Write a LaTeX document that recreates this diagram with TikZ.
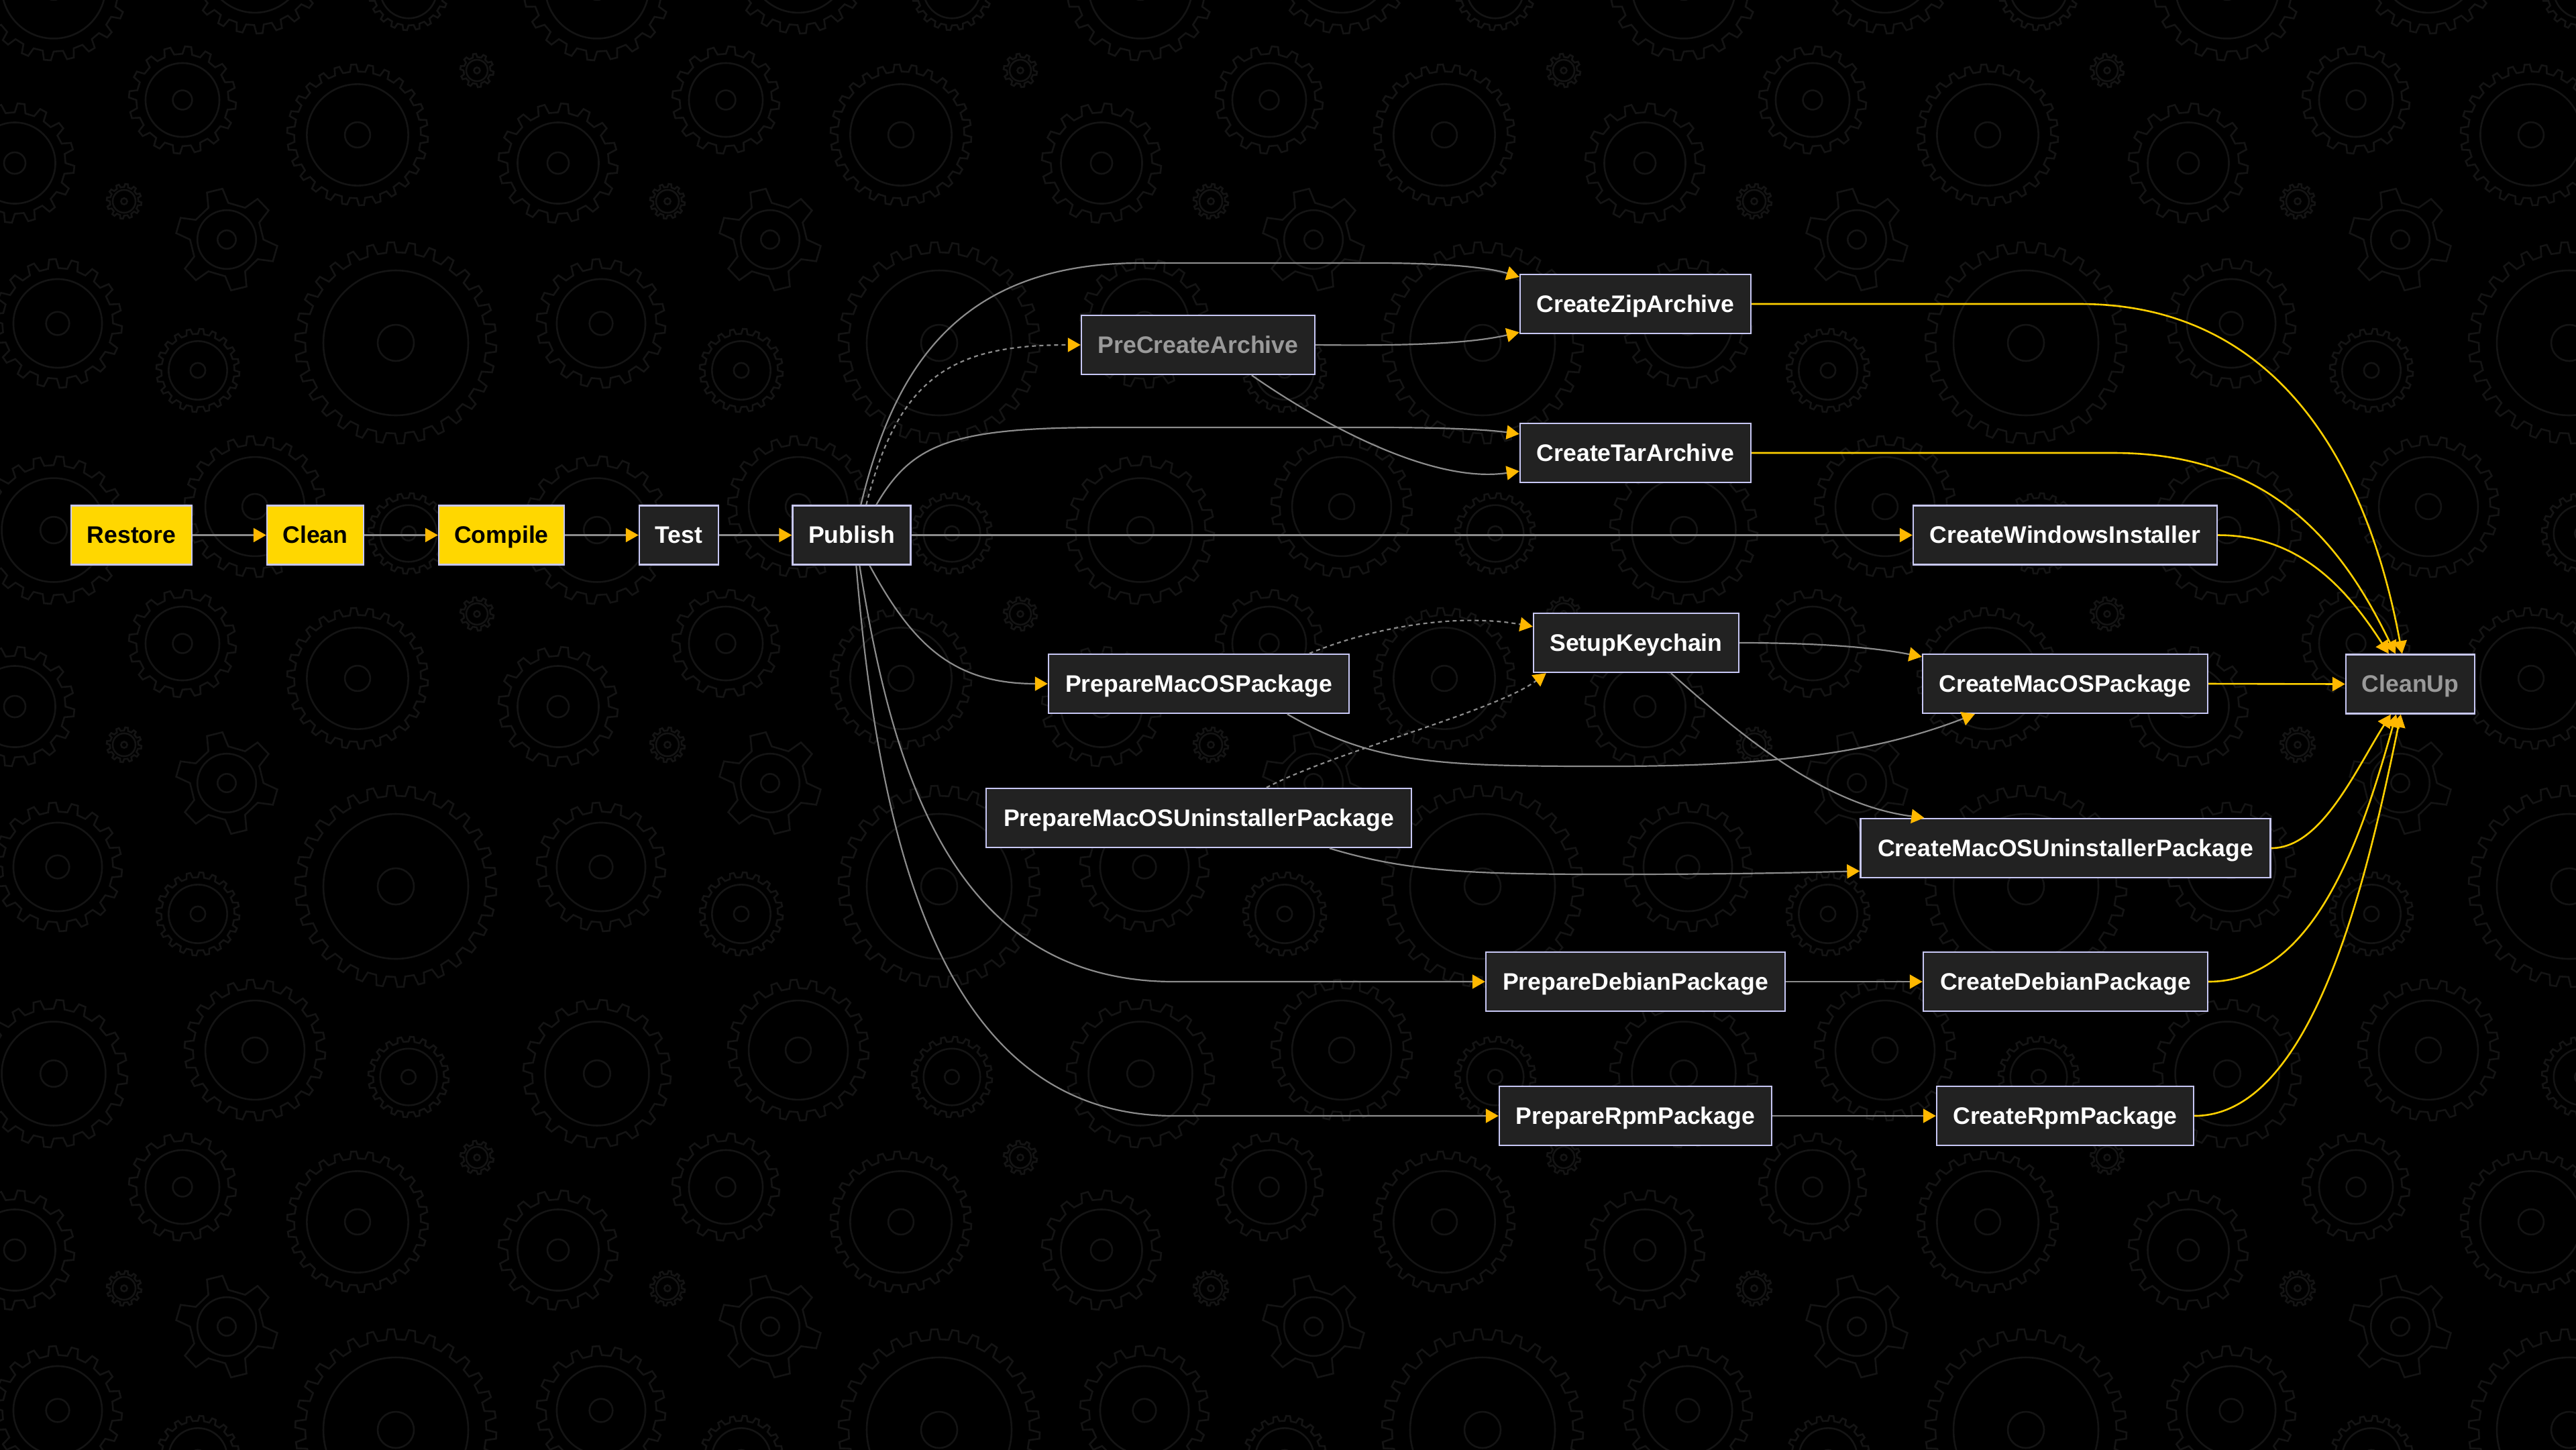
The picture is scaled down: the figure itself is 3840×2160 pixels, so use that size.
\documentclass[tikz,border=0pt]{standalone}
\usepackage{fontspec}
\setmainfont{Liberation Sans}
\usetikzlibrary{arrows.meta,calc}
\definecolor{bgc}{HTML}{000000}
\definecolor{gearc}{HTML}{141414}
\definecolor{nodefill}{HTML}{222222}
\definecolor{nodeborder}{HTML}{C8C8F5}
\definecolor{goldc}{HTML}{FFD700}
\definecolor{arrowc}{HTML}{FFB800}
\definecolor{edgegray}{HTML}{8C8C8C}
\definecolor{edgeyellow}{HTML}{FFD000}
\definecolor{mutedtext}{HTML}{9A9A9A}
\newcommand{\mygear}[5]{%
  \begin{scope}[shift={(#1,#2)}]
    \pgfmathsetmacro\gst{360/#4}
    \pgfmathsetmacro\gro{#3}
    \pgfmathsetmacro\gri{#3*#5}
    \draw[gearline] (0:\gri) \foreach \k in {1,...,#4}{ -- ({(\k-1)*\gst+0.12*\gst}:\gro) -- ({(\k-1)*\gst+0.42*\gst}:\gro) -- ({(\k-1)*\gst+0.54*\gst}:\gri) -- ({\k*\gst}:\gri)} -- cycle;
    \draw[gearline] (0,0) circle[radius={#3*#5*0.8}];
    \draw[gearline] (0,0) circle[radius={#3*0.18}];
  \end{scope}}
\tikzset{
  gearline/.style={draw=gearc, line width=1.3pt},
  box/.style={draw=nodeborder, line width=1.2pt, fill=nodefill, text=white,
    font=\bfseries\fontsize{17.8}{20}\selectfont, minimum height=44pt,
    inner sep=0pt, text height=12.8pt, text depth=0.6pt},
  ybox/.style={box, fill=goldc, text=black},
  gbox/.style={box, text=mutedtext},
  conn/.style={draw=edgegray, line width=1.1pt,
    -{Triangle[length=9.5pt,width=10.5pt,color=arrowc]}},
  dotconn/.style={conn, dash pattern=on 3pt off 2.5pt},
  yconn/.style={draw=edgeyellow, line width=1.3pt,
    -{Triangle[length=9.5pt,width=10.5pt,color=arrowc]}}
}
\begin{document}
\begin{tikzpicture}[x=0.5pt,y=-0.5pt]
\useasboundingbox (0,0) rectangle (3840,2160);
\fill[bgc] (-20,-20) rectangle (3860,2180);
\begin{scope}
\clip (0,0) rectangle (3840,2160);
\foreach \tx in {0,...,4}{\foreach \ty in {0,...,2}{
  \begin{scope}[shift={(\tx*810,\ty*810)}]
    \mygear{80}{-20}{110}{20}{0.88}
    \mygear{272}{149}{80}{16}{0.86}
    \mygear{533}{201}{105}{26}{0.9}
    \mygear{22}{243}{89}{16}{0.85}
    \mygear{711}{105}{25}{10}{0.8}
    \mygear{185}{300}{26}{12}{0.82}
    \mygear{338}{357}{76}{6}{0.72}
    \mygear{590}{511}{150}{30}{0.9}
    \mygear{86}{482}{96}{18}{0.86}
    \mygear{295}{552}{62}{20}{0.88}
    \mygear{380}{-55}{105}{22}{0.88}
    \mygear{609}{-15}{60}{20}{0.88}
  \end{scope}}}
\end{scope}

% nodes
\node[ybox, minimum width=90pt] (restore) at (196,797.5) {Restore};
\node[ybox, minimum width=72pt] (clean) at (470,797.5) {Clean};
\node[ybox, minimum width=93.5pt] (compile) at (747.5,797.5) {Compile};
\node[box, minimum width=59pt] (test) at (1012,797.5) {Test};
\node[box, minimum width=88pt] (publish) at (1269.5,797.5) {Publish};
\node[gbox, minimum width=174pt] (precreate) at (1786,514) {PreCreateArchive};
\node[box, minimum width=172pt] (zip) at (2438,453) {CreateZipArchive};
\node[box, minimum width=172pt] (tar) at (2438,675) {CreateTarArchive};
\node[box, minimum width=226.5pt] (win) at (3078.5,797.5) {CreateWindowsInstaller};
\node[box, minimum width=153pt] (setup) at (2439,958) {SetupKeychain};
\node[box, minimum width=224pt] (prepmac) at (1787,1019) {PrepareMacOSPackage};
\node[box, minimum width=212.5pt] (cmac) at (3078.5,1019) {CreateMacOSPackage};
\node[gbox, minimum width=96pt] (cleanup) at (3593,1019.5) {CleanUp};
\node[box, minimum width=317pt] (pmu) at (1787,1219) {PrepareMacOSUninstallerPackage};
\node[box, minimum width=305.5pt] (cmu) at (3079,1264) {CreateMacOSUninstallerPackage};
\node[box, minimum width=223pt] (prepdeb) at (2438,1463) {PrepareDebianPackage};
\node[box, minimum width=212pt] (cdeb) at (3079,1463) {CreateDebianPackage};
\node[box, minimum width=203pt] (preprpm) at (2438,1663) {PrepareRpmPackage};
\node[box, minimum width=191.5pt] (crpm) at (3078.5,1663) {CreateRpmPackage};

% gray connectors
\draw[conn] (restore.east) -- (clean.west);
\draw[conn] (clean.east) -- (compile.west);
\draw[conn] (compile.east) -- (test.west);
\draw[conn] (test.east) -- (publish.west);
\draw[conn] ($(publish.north west)+(103,0)$) .. controls (1330,560) and (1420,392) .. (1700,392) -- (2050,392) .. controls (2180,392) and (2230,402) .. ($(zip.north west)+(0,5)$);
\draw[dotconn] ($(publish.north west)+(111,0)$) .. controls (1340,560) and (1420,514) .. (precreate.west);
\draw[conn] (precreate.east) .. controls (2120,516) and (2200,510) .. ($(zip.south west)+(0,-3)$);
\draw[conn] ($(precreate.south west)+(255,0)$) .. controls (1960,625) and (2130,722) .. ($(tar.south west)+(0,-18)$);
\draw[conn] ($(publish.north west)+(126,0)$) .. controls (1360,660) and (1420,637) .. (1650,637) -- (2050,637) .. controls (2180,637) and (2230,642) .. ($(tar.north west)+(0,17)$);
\draw[conn] (publish.east) -- (win.west);
\draw[conn] ($(publish.south west)+(116,0)$) .. controls (1360,960) and (1420,1019) .. (prepmac.west);
\draw[conn] ($(publish.south west)+(101,0)$) .. controls (1330,1150) and (1420,1463) .. (1750,1463) -- (prepdeb.west);
\draw[conn] ($(publish.south west)+(96,0)$) .. controls (1310,1250) and (1400,1663) .. (1750,1663) -- (preprpm.west);
\draw[dotconn] ($(prepmac.north west)+(390,0)$) .. controls (2060,930) and (2180,915) .. ($(setup.north west)+(0,21)$);
\draw[dotconn] ($(pmu.north west)+(419,0)$) .. controls (1990,1120) and (2230,1060) .. ($(setup.south west)+(20,0)$);
\draw[conn] (setup.east) .. controls (2720,958) and (2800,966) .. ($(cmac.north west)+(0,5)$);
\draw[conn] ($(setup.south west)+(206,0)$) .. controls (2600,1100) and (2720,1200) .. ($(cmu.north west)+(96,0)$);
\draw[conn] ($(prepmac.south west)+(357,0)$) .. controls (2050,1140) and (2150,1142) .. (2400,1142) .. controls (2650,1142) and (2800,1120) .. ($(cmac.south west)+(79,0)$);
\draw[conn] ($(pmu.south west)+(513,0)$) .. controls (2100,1300) and (2200,1303) .. (2400,1303) .. controls (2600,1303) and (2700,1300) .. ($(cmu.south west)+(0,-11)$);
\draw[conn] (prepdeb.east) -- (cdeb.west);
\draw[conn] (preprpm.east) -- (crpm.west);

% yellow connectors
\draw[yconn] (zip.east) -- (3100,453) .. controls (3400,453) and (3530,700) .. ($(cleanup.north west)+(85,0)$);
\draw[yconn] (tar.east) -- (3150,675) .. controls (3400,675) and (3500,830) .. ($(cleanup.north west)+(75,0)$);
\draw[yconn] (win.east) .. controls (3430,797.5) and (3500,880) .. ($(cleanup.north west)+(65,0)$);
\draw[yconn] (cmac.east) -- (cleanup.west);
\draw[yconn] (cmu.east) .. controls (3460,1264) and (3510,1150) .. ($(cleanup.south west)+(68,0)$);
\draw[yconn] (cdeb.east) .. controls (3450,1463) and (3520,1250) .. ($(cleanup.south west)+(76,0)$);
\draw[yconn] (crpm.east) .. controls (3450,1663) and (3530,1300) .. ($(cleanup.south west)+(83,0)$);
\end{tikzpicture}
\end{document}
